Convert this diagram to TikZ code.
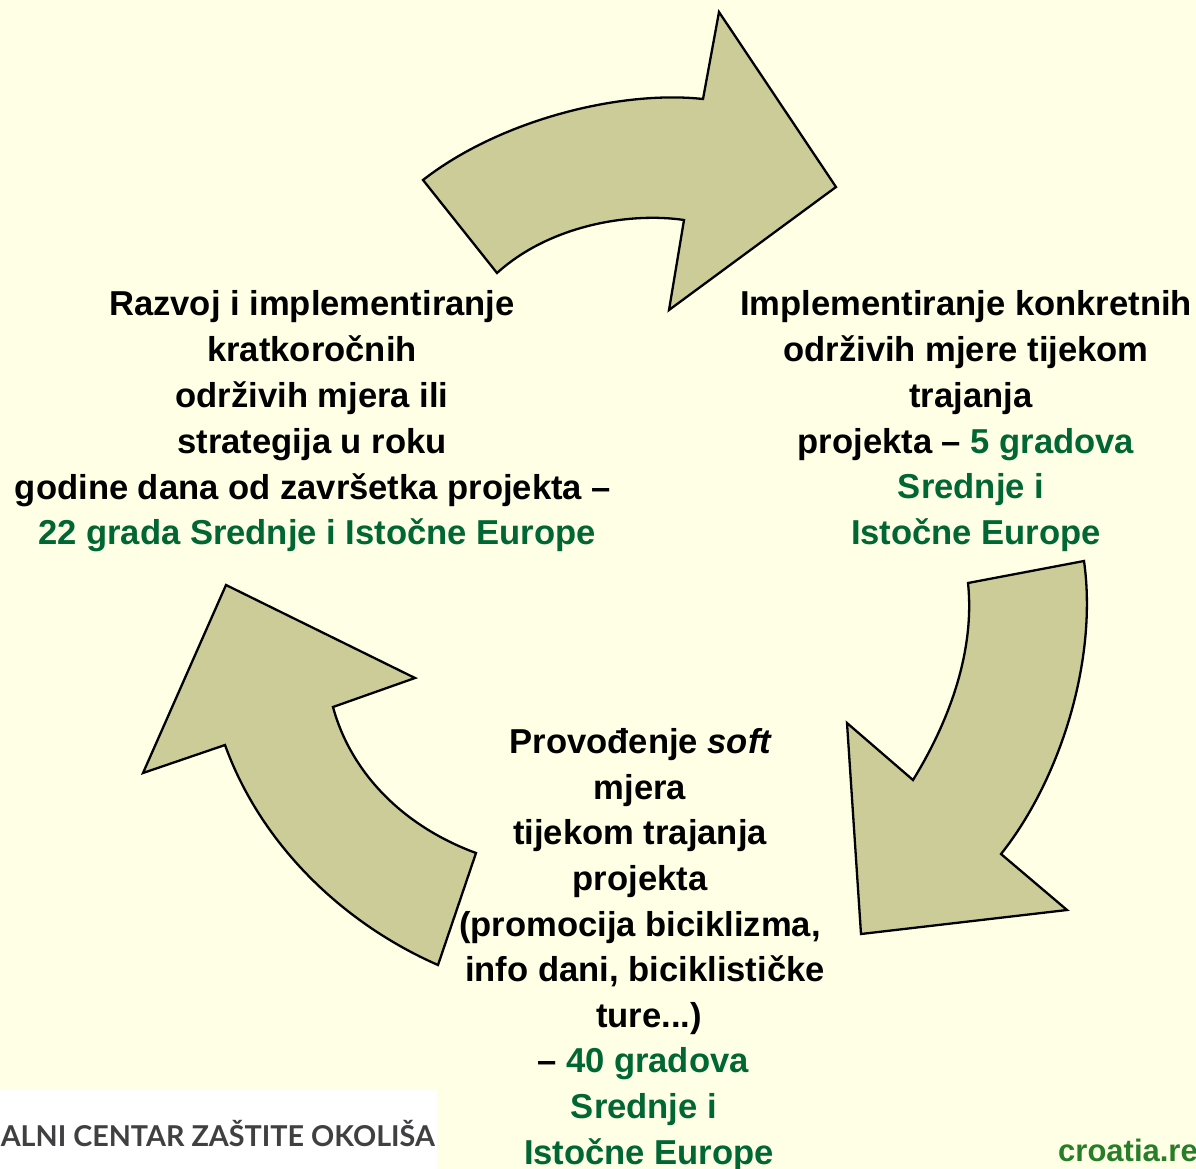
\documentclass[tikz,border=0pt]{standalone}
\usepackage{fontspec}
\setmainfont{Liberation Sans}
\newfontfamily\logofont{Lato}
\usepackage{graphicx}
\definecolor{bg}{RGB}{255,255,229}
\definecolor{arrowfill}{RGB}{204,204,153}
\definecolor{dgreen}{RGB}{0,102,51}
\definecolor{lgreen}{RGB}{40,125,40}
\definecolor{logogray}{RGB}{64,64,66}
\begin{document}
\begin{tikzpicture}[x=1pt,y=-1pt,
 arrowshape/.style={fill=arrowfill,draw=black,line width=2.3pt,line join=miter},
 txt/.style={font=\fontsize{34.6}{46}\selectfont\bfseries,anchor=base,inner sep=0pt},
 grn/.style={txt,text=dgreen}
]
\useasboundingbox (0,0) rectangle (1196,1169);
\fill[bg] (0,0) rectangle (1196,1169);

% top arrow
\draw[arrowshape] (423,180) .. controls (500,120) and (620,90) .. (703,99) -- (719,12) -- (836,187) -- (669,310) -- (684,220) .. controls (630,212) and (550,225) .. (497,273) -- cycle;
% right arrow
\draw[arrowshape] (968,583) -- (1084,561) .. controls (1098,660) and (1060,780) .. (1001,854) -- (1067,910) -- (861,934) -- (847,723) -- (913,780) .. controls (950,720) and (975,650) .. (968,583) -- cycle;
% left arrow
\draw[arrowshape] (476,853) -- (438,965) .. controls (340,922) and (260,842) .. (225,745) -- (143,773) -- (226,585) -- (415,678) -- (333,707) .. controls (350,770) and (400,825) .. (476,853) -- cycle;

% left block
\node[txt] (l1) at (312,315) {Razvoj i implementiranje};
\node[txt] (l2) at (312,361) {kratkoročnih};
\node[txt] (l3) at (312,407) {održivih mjera ili};
\node[txt] (l4) at (312,453) {strategija u roku};
\node[txt] (l5) at (313,499) {godine dana od završetka projekta –};
\node[grn] (l6) at (317,544) {22 grada Srednje i Istočne Europe};

% right block
\node[txt] (r1) at (966,315) {Implementiranje konkretnih};
\node[txt] (r2) at (966,361) {održivih mjere tijekom};
\node[txt] (r3) at (971,407) {trajanja};
\node[txt] (r4) at (966,453) {projekta – \textcolor{dgreen}{5 gradova}};
\node[grn] (r5) at (971,498) {Srednje i};
\node[grn] (r6) at (976,544) {Istočne Europe};

% bottom block
\node[txt] (b1) at (641,753) {Provođenje \textit{soft}};
\node[txt] (b2) at (640,799) {mjera};
\node[txt] (b3) at (640,844) {tijekom trajanja};
\node[txt] (b4) at (640,890) {projekta};
\node[txt] (b5) at (640,936) {(promocija biciklizma,};
\node[txt] (b6) at (645,981) {info dani, biciklističke};
\node[txt] (b7) at (649,1027) {ture...)};
\node[txt] (b8) at (643,1072) {– \textcolor{dgreen}{40 gradova}};
\node[grn] (b9) at (644,1118) {Srednje i};
\node[grn] (b10) at (649,1164) {Istočne Europe};

% footer
\fill[white] (0,1090) rectangle (437,1169);
\node[anchor=base east,inner sep=0pt,text=logogray] (logo) at (435,1146) {\resizebox{434pt}{!}{\logofont\bfseries ALNI CENTAR ZAŠTITE OKOLIŠA}};
\node[anchor=base west,inner sep=0pt,text=lgreen,font=\fontsize{31}{36}\selectfont\bfseries] (site) at (1058,1161) {croatia.re};
\end{tikzpicture}
\end{document}
